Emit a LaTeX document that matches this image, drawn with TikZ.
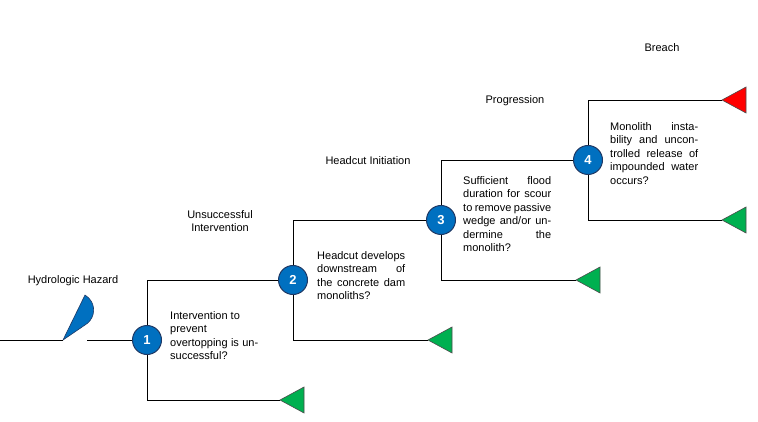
\documentclass[tikz,border=0pt]{standalone}
\usepackage{fontspec}
\setmainfont{Liberation Sans}
\definecolor{nodeblue}{HTML}{0070C0}
\definecolor{nodeedge}{HTML}{1F3864}
\definecolor{endgreen}{HTML}{00B050}
\definecolor{endred}{HTML}{FF0000}
\begin{document}
\begin{tikzpicture}[x=1pt, y=-1pt, font=\fontsize{11}{13.5}\selectfont]
  \tikzset{
  event/.style={
    circle,
    draw=nodeedge,
    fill=nodeblue,
    line width=1pt,
    minimum size=29pt,
    inner sep=0pt,
    text=white,
    font=\fontsize{13}{13}\selectfont\bfseries
  },
  question/.style={
    anchor=north west,
    align=justify,
    text width=88pt,
    inner sep=0pt
  },
  stage/.style={
    align=center,
    inner sep=0pt
  },
  branch/.style={
    draw,
    line width=0.8pt
  }
}
\useasboundingbox (0,0) rectangle (758,422);

% chance node
\coordinate (start) at (0,340);
\coordinate (hz-tip) at (63,340);
\draw [fill=nodeblue, draw=nodeedge, line width=0.6pt]
  (hz-tip) -- (85,325) arc[start angle=60, end angle=-60, radius=17.3] -- cycle;
\coordinate (hz-back) at (87,340);

\foreach \n/\x/\y in {1/147/340, 2/293/280, 3/441/220, 4/588/160}
  \node [event] (ev-\n) at (\x,\y) {\n};

% end triangles
\foreach \n/\x/\y/\c in {1/280/400/endgreen, 2/428/340/endgreen, 3/576/280/endgreen, 4/722/220/endgreen, 5/722/100/endred}
{
  \coordinate (end-\n) at (\x,\y);
  \draw [fill=\c, draw=black!70, line width=0.6pt]
    (end-\n) -- ++(24,-13) -- ++(0,26) -- cycle;
}

\path [branch] (start) -- (hz-tip);
\path [branch] (hz-back) -- (ev-1);

% up/down branches
\foreach \n/\up/\dn in {1/ev-2/end-1, 2/ev-3/end-2, 3/ev-4/end-3, 4/end-5/end-4}
{
  \path [branch] (ev-\n) -- (ev-\n |- \up) -- (\up);
  \path [branch] (ev-\n) -- (ev-\n |- \dn) -- (\dn);
}

\node [stage] (st-1) at (73,281) {Hydrologic Hazard};
\node [stage] (st-2) at (220,221) {Unsuccessful\\Intervention};
\node [stage] (st-3) at (368,161) {Headcut Initiation};
\node [stage] (st-4) at (515,101) {Progression};
\node [stage] (st-5) at (662,48) {Breach};

\node [question] (q-1) at (170,311) {Intervention to\\prevent\\overtopping is unsuccessful?};
\node [question] (q-2) at (317,251) {Headcut develops downstream of the concrete dam monoliths?};
\node [question] (q-3) at (463,176) {Sufficient flood duration for scour to remove passive wedge and/or undermine the monolith?};
\node [question] (q-4) at (610,122) {Monolith instability and uncontrolled release of impounded water occurs?};
\end{tikzpicture}
\end{document}
